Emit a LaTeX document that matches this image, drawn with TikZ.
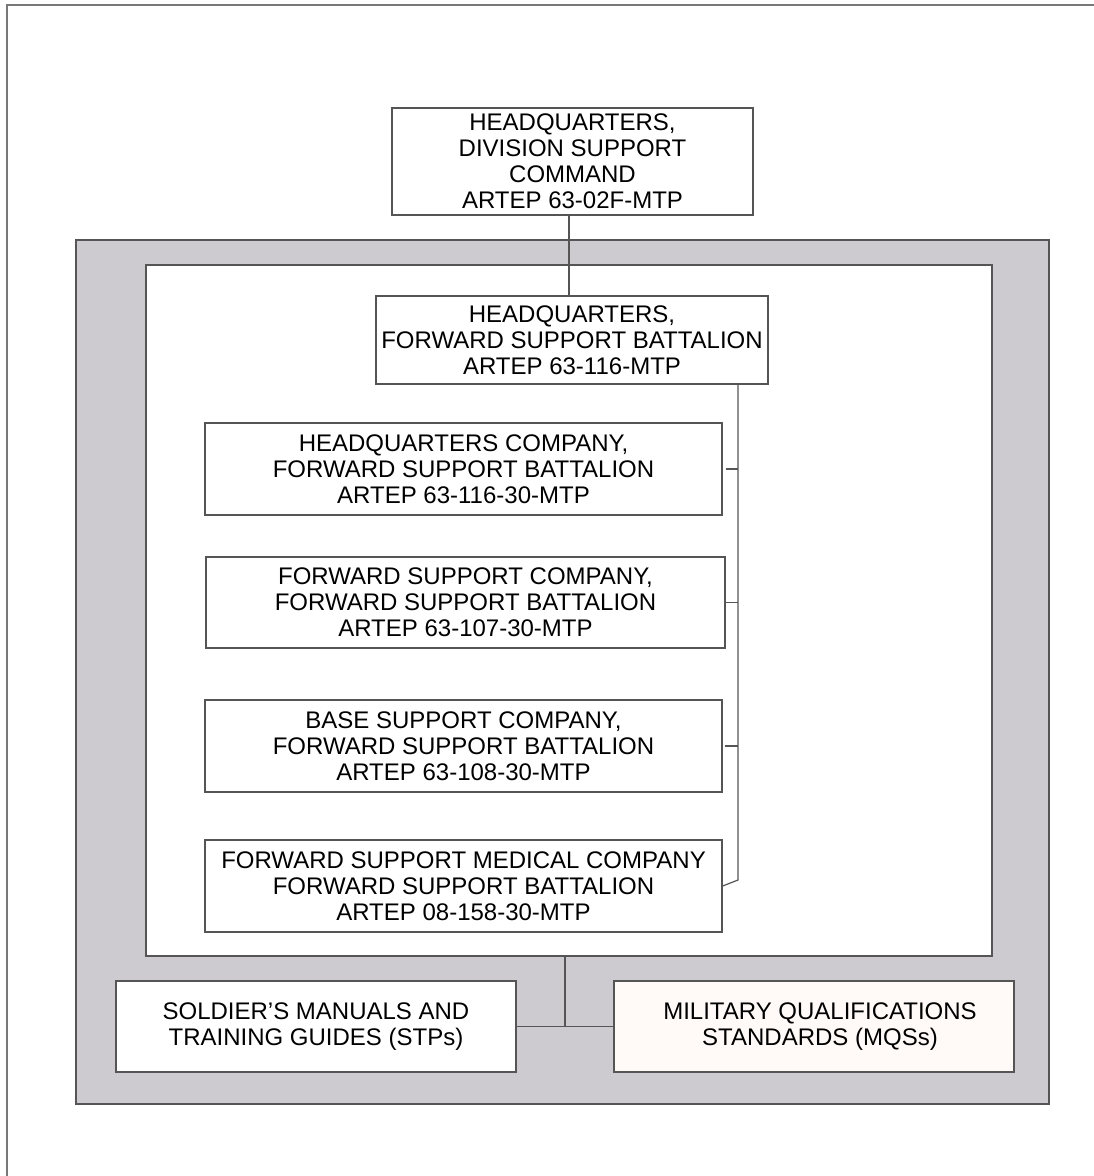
\documentclass[tikz,border=0pt]{standalone}
\usepackage{fontspec}
\setmainfont{Liberation Sans}
\usetikzlibrary{calc}
\definecolor{panelgray}{RGB}{205,203,208}
\definecolor{edge}{RGB}{85,85,85}
\definecolor{framegray}{RGB}{120,120,120}
\definecolor{mqsfill}{RGB}{255,250,247}
\tikzset{
  unitbox/.style={draw=edge, line width=1.3pt, fill=white, align=center, inner sep=0pt,
    font=\fontsize{24}{26}\selectfont},
  conn/.style={draw=edge, line width=1.2pt},
}
\begin{document}
\begin{tikzpicture}[x=1pt,y=-1pt]
\useasboundingbox (0,0) rectangle (1094,1176);
% page frame (top and left edges only)
\draw[framegray, line width=2pt] (1094,5) -- (7,5) -- (7,1176);
% gray panel and inner white area
\node[draw=edge, line width=1.5pt, fill=panelgray, minimum width=973pt, minimum height=864pt, inner sep=0pt] (outer) at (562.5,672) {};
\node[draw=edge, line width=1.3pt, fill=white, minimum width=846pt, minimum height=691pt, inner sep=0pt] (inner) at (569,610.5) {};
% boxes
\node[unitbox, minimum width=361pt, minimum height=107pt] (dsc) at (572.5,161.5)
  {HEADQUARTERS,\\DIVISION SUPPORT\\COMMAND\\ARTEP 63-02F-MTP};
\node[unitbox, minimum width=392pt, minimum height=88pt] (fsb) at (572,340)
  {HEADQUARTERS,\\FORWARD SUPPORT BATTALION\\ARTEP 63-116-MTP};
\node[unitbox, minimum width=517pt, minimum height=92pt] (hqco) at (463.5,469)
  {HEADQUARTERS COMPANY,\\FORWARD SUPPORT BATTALION\\ARTEP 63-116-30-MTP};
\node[unitbox, minimum width=519pt, minimum height=91pt] (fsc) at (465.5,602.5)
  {FORWARD SUPPORT COMPANY,\\FORWARD SUPPORT BATTALION\\ARTEP 63-107-30-MTP};
\node[unitbox, minimum width=517pt, minimum height=92pt] (bsc) at (463.5,746)
  {BASE SUPPORT COMPANY,\\FORWARD SUPPORT BATTALION\\ARTEP 63-108-30-MTP};
\node[unitbox, minimum width=517pt, minimum height=92pt] (fsmc) at (463.5,886)
  {FORWARD SUPPORT MEDICAL COMPANY\\FORWARD SUPPORT BATTALION\\ARTEP 08-158-30-MTP};
\node[unitbox, minimum width=400pt, minimum height=91pt] (stp) at (316,1026.5)
  {SOLDIER'S MANUALS AND\\TRAINING GUIDES (STPs)};
\node[unitbox, fill=mqsfill, minimum width=400pt, minimum height=91pt] (mqs) at (814,1026.5)
  {\hspace*{12pt}MILITARY QUALIFICATIONS\\\hspace*{12pt}STANDARDS (MQSs)};
% connectors
\draw[conn] (dsc.south -| 569,0) -- (fsb.north -| 569,0);
\coordinate (bx) at (738,0);
\coordinate (bend) at (738,880);
\draw[conn] (fsb.south -| bx) -- (bend) -- (fsmc.east);
\draw[conn] ([xshift=3pt]hqco.east) -- (hqco.east -| bx);
\draw[conn] (fsc.east) -- (fsc.east -| bx);
\draw[conn] ([xshift=2pt]bsc.east) -- (bsc.east -| bx);
\coordinate (mid) at ($(stp.east)!0.5!(mqs.west)$);
\draw[conn] (mid |- inner.south) -- (mid);
\draw[conn] (stp.east) -- (mqs.west);
\end{tikzpicture}
\end{document}
